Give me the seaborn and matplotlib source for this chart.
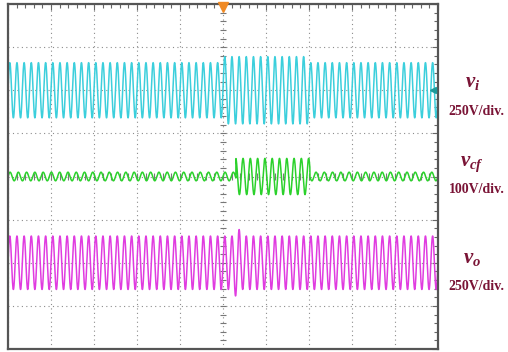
import numpy as np
import pandas as pd
import matplotlib
matplotlib.use('Agg')
import matplotlib.pyplot as plt
import seaborn as sns

# Scope traces, time in divisions (10 div), amplitude in divisions (8 div)
# each trace: segment edges, amplitude and cycles/div per segment, trace offset
vi_edges = [0.0, 5.0, 7.0, 10.0]
vi_amp = [0.64, 0.78, 0.64]
vi_freq = [6.0, 6.0, 6.0]
vi_offset = 6.0

vcf_edges = [0.0, 5.3, 7.02, 10.0]
vcf_amp = [0.1, 0.42, 0.1]
vcf_freq = [5.2, 5.9, 5.2]
vcf_offset = 4.0

vo_edges = [0.0, 5.25, 5.4, 10.0]
vo_amp = [0.62, 0.77, 0.62]
vo_freq = [6.0, 6.0, 6.0]
vo_offset = 2.0

trace_names = ['vi', 'vcf', 'vo']
trace_colors = ['#3CCFDC', '#2BD12B', '#E03CE0']

labels = [r'$v_i$', r'$v_{cf}$', r'$v_o$']
scales = ['250V/div.', '100V/div.', '250V/div.']


def build_trace(edges, amp, freq, offset, n=6000):
    t = np.linspace(0, 10, n)
    idx = np.clip(np.searchsorted(edges, t, side='right') - 1, 0, len(amp) - 1)
    a = np.array(amp)[idx]
    f = np.array(freq)[idx]
    return t, offset + a * np.sin(2 * np.pi * f * t)


frames = []
for name, (e, a, f, o) in zip(trace_names, [(vi_edges, vi_amp, vi_freq, vi_offset),
                                              (vcf_edges, vcf_amp, vcf_freq, vcf_offset),
                                              (vo_edges, vo_amp, vo_freq, vo_offset)]):
    t, v = build_trace(e, a, f, o)
    frames.append(pd.DataFrame({'t': t, 'v': v, 'trace': name}))
df = pd.concat(frames, ignore_index=True)

sns.set_style('white')
plt.rcParams['mathtext.fontset'] = 'custom'
plt.rcParams['mathtext.rm'] = 'Liberation Serif:bold'
plt.rcParams['mathtext.it'] = 'Liberation Serif:italic:bold'

fig = plt.figure(figsize=(5.08, 3.52), dpi=100)
ax = fig.add_axes([8 / 508, 3 / 352, 430 / 508, 345 / 352])

sns.lineplot(data=df, x='t', y='v', hue='trace', palette=trace_colors,
             estimator=None, sort=False, lw=1.1, legend=False, ax=ax)

ax.set_xlim(0, 10)
ax.set_ylim(0, 8)
ax.set_xticks(np.arange(0, 11, 1))
ax.set_yticks(np.arange(0, 9, 1))
ax.set_xticks(np.arange(0, 10.01, 0.2), minor=True)
ax.set_yticks(np.arange(0, 8.01, 0.2), minor=True)
ax.tick_params(which='both', direction='in', top=True, right=True,
               labelbottom=False, labelleft=False, color='#666666', width=0.8)
ax.tick_params(which='major', length=4)
ax.tick_params(which='minor', length=3)
ax.grid(True, which='major', color='#8c8c8c', linestyle=(0, (1, 3)), lw=0.8)
ax.set_axisbelow(True)
ax.set_xlabel('')
ax.set_ylabel('')
for s in ax.spines.values():
    s.set_color('#555555')
    s.set_linewidth(1.6)

# centre cross tick marks
ax.vlines(np.arange(0, 10.01, 0.2), 3.93, 4.07, color='#777777', lw=0.8, zorder=1)
ax.hlines(np.arange(0, 8.01, 0.2), 4.93, 5.07, color='#777777', lw=0.8, zorder=1)

# trigger and channel markers
ax.plot(5, 7.93, marker='v', color='#F08A24', markersize=7, clip_on=False, zorder=5)
ax.plot(9.88, 6.0, marker='<', color='#1E9A9A', markersize=5, clip_on=False, zorder=5)

label_y = [6.2, 4.3, 2.1]
scale_y = [5.5, 3.7, 1.45]
tcol = '#7A1436'
for lab, sc, ly, sy in zip(labels, scales, label_y, scale_y):
    ax.text(10.8, ly, lab, fontsize=15, color=tcol, ha='center', va='center',
            clip_on=False)
    ax.text(10.9, sy, sc, fontsize=10, color=tcol, ha='center', va='center',
            family='Liberation Serif', weight='bold', clip_on=False)

fig.savefig('out.png', dpi=100)
